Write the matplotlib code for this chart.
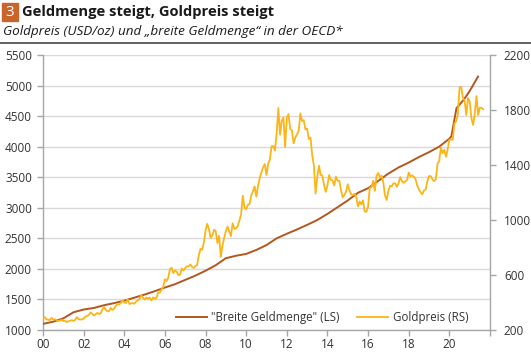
import matplotlib
matplotlib.use("Agg")
import matplotlib.pyplot as plt
import numpy as np
from matplotlib.patches import Rectangle
from matplotlib.lines import Line2D

plt.rcParams['font.family'] = ['Open Sans', 'DejaVu Sans']

# broad money (left scale): years since 2000 and value
money_t = [0.0, 0.5, 1.0, 1.5, 2.0, 2.5, 3.0, 3.5, 4.0, 4.5, 5.0, 5.5, 6.0, 6.5,
           7.0, 7.5, 8.0, 8.5, 9.0, 9.5, 10.0, 10.5, 11.0, 11.5, 12.0, 12.5,
           13.0, 13.5, 14.0, 14.5, 15.0, 15.5, 16.0, 16.5, 17.0, 17.5, 18.0,
           18.5, 19.0, 19.5, 20.0, 20.1, 20.35, 20.7, 21.0, 21.41]
money = [1100, 1136, 1190, 1290, 1335, 1360, 1405, 1440, 1480, 1530, 1580, 1635,
         1695, 1750, 1820, 1890, 1970, 2060, 2175, 2215, 2245, 2310, 2390, 2500,
         2575, 2645, 2720, 2800, 2900, 3010, 3120, 3245, 3320, 3440, 3560, 3660,
         3740, 3830, 3910, 4000, 4130, 4170, 4630, 4765, 4910, 5147]

# gold price USD/oz (right scale), month-end, Jan 2000 - Sep 2021
gold = [
    283, 294, 277, 275, 272, 288, 277, 277, 274, 265, 269, 273,
    265, 267, 258, 263, 268, 271, 266, 273, 293, 279, 276, 277,
    282, 297, 301, 308, 327, 319, 305, 313, 324, 317, 319, 347,
    368, 348, 335, 337, 361, 346, 355, 376, 388, 386, 398, 417,
    400, 396, 424, 389, 393, 396, 391, 407, 416, 426, 453, 436,
    422, 436, 428, 436, 415, 437, 429, 433, 473, 471, 496, 513,
    569, 556, 582, 644, 653, 614, 633, 624, 599, 604, 647, 632,
    651, 664, 662, 677, 659, 651, 666, 672, 743, 790, 784, 834,
    923, 972, 934, 871, 886, 930, 918, 833, 885, 731, 815, 870,
    920, 952, 917, 883, 976, 935, 939, 956, 996, 1040, 1176, 1088,
    1079, 1110, 1116, 1179, 1208, 1244, 1169, 1246, 1307, 1347, 1384, 1406,
    1327, 1411, 1439, 1536, 1537, 1506, 1629, 1814, 1620, 1722, 1746, 1531,
    1744, 1770, 1663, 1651, 1558, 1599, 1622, 1649, 1776, 1719, 1726, 1658,
    1665, 1589, 1598, 1469, 1395, 1192, 1315, 1395, 1327, 1324, 1253, 1205,
    1251, 1327, 1292, 1289, 1251, 1315, 1285, 1286, 1217, 1164, 1183, 1206,
    1260, 1214, 1187, 1180, 1191, 1171, 1098, 1135, 1114, 1142, 1062, 1060,
    1097, 1235, 1237, 1286, 1212, 1321, 1342, 1309, 1323, 1272, 1178, 1146,
    1213, 1249, 1245, 1267, 1266, 1242, 1268, 1312, 1283, 1270, 1280, 1291,
    1345, 1318, 1324, 1315, 1298, 1251, 1224, 1202, 1187, 1215, 1221, 1282,
    1320, 1319, 1295, 1283, 1296, 1409, 1428, 1528, 1485, 1511, 1461, 1515,
    1583, 1586, 1583, 1703, 1716, 1768, 1963, 1968, 1887, 1868, 1763, 1888,
    1863, 1743, 1691, 1771, 1902, 1763, 1818, 1815, 1805,
]

years = [0, 2, 4, 6, 8, 10, 12, 14, 16, 18, 20]
year_labels = ["00", "02", "04", "06", "08", "10", "12", "14", "16", "18", "20"]

brown = "#B4561F"
yellow = "#FDB515"
axis_grey = "#A6A6A6"
text_grey = "#333333"

fig = plt.figure(figsize=(5.31, 3.54), dpi=100)
ax = fig.add_axes([43 / 531, 24 / 354, 447 / 531, 275 / 354])
ax2 = ax.twinx()

gold_t = 2000 + np.arange(len(gold)) / 12
money_x = 2000 + np.array(money_t)

l1, = ax.plot(money_x, money, color=brown, lw=1.4, zorder=3)
l2, = ax2.plot(gold_t, gold, color=yellow, lw=1.3, zorder=3)

ax.set_xlim(2000, 2022)
ax.set_ylim(1000, 5500)
ax2.set_ylim(200, 2200)
ax.set_yticks(np.arange(1000, 5501, 500))
ax2.set_yticks(np.arange(200, 2201, 400))
ax.set_xticks([2000 + y for y in years] + [2022])
ax.set_xticklabels(year_labels + [""])

ax.yaxis.grid(True, color="#D9D9D9", lw=1.0)
ax.set_axisbelow(True)

for a in (ax, ax2):
    a.spines['top'].set_visible(False)
    for s in ('left', 'right', 'bottom'):
        a.spines[s].set_color(axis_grey)
        a.spines[s].set_linewidth(1.0)
    a.tick_params(colors=axis_grey, labelcolor=text_grey, labelsize=8.5,
                  length=4, width=1.0)
ax.spines['right'].set_visible(False)
ax2.spines['left'].set_visible(False)
ax2.spines['bottom'].set_visible(False)
ax.tick_params(axis='y', pad=4)
ax.tick_params(axis='x', pad=2)
ax2.tick_params(axis='y', pad=6)

fig.legend([l1, l2], ['"Breite Geldmenge" (LS)', 'Goldpreis (RS)'],
           loc='center', bbox_to_anchor=(322 / 531, 1 - 318 / 354), ncol=2,
           frameon=False, fontsize=8.3, handlelength=2.7, handletextpad=0.4,
           columnspacing=1.5, labelcolor=text_grey)

# header
fig.patches.append(Rectangle((2 / 531, 1 - 21 / 354), 16 / 531, 18 / 354,
                             transform=fig.transFigure, color="#C8652A"))
fig.text(10 / 531, 1 - 12 / 354, "3", color="white", fontsize=11,
         ha="center", va="center")
fig.text(22 / 531, 1 - 12 / 354, "Geldmenge steigt, Goldpreis steigt",
         fontsize=10.6, fontweight="bold", color="#1a1a1a", va="center")
fig.text(3 / 531, 1 - 31 / 354,
         "Goldpreis (USD/oz) und \u201ebreite Geldmenge\u201c in der OECD*",
         fontsize=9.7, style="italic", color="#1a1a1a", va="center")
fig.add_artist(Line2D([0, 1], [1 - 42.5 / 354, 1 - 42.5 / 354],
                      transform=fig.transFigure, color="#555555", lw=1.3))

fig.savefig("out.png", dpi=100)
